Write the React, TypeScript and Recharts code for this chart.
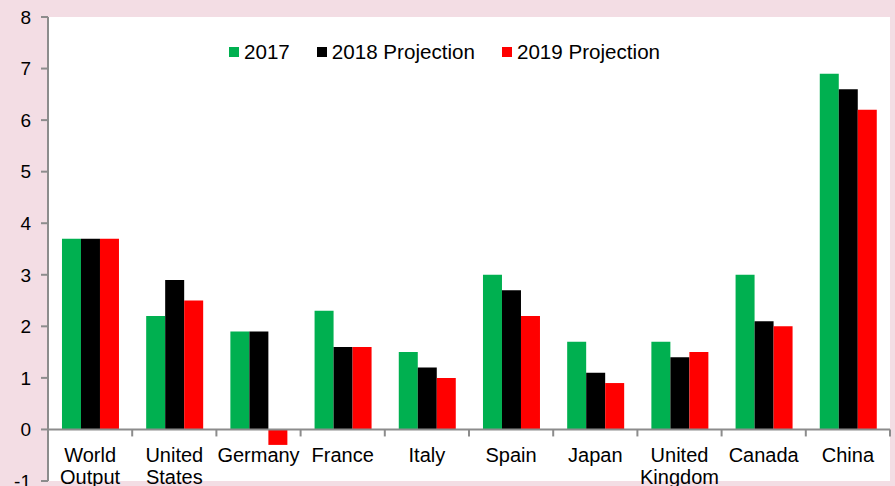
import React from "react";
import {
  BarChart,
  Bar,
  XAxis,
  YAxis,
  ReferenceLine,
} from "recharts";

const categories = [
  "World Output",
  "United States",
  "Germany",
  "France",
  "Italy",
  "Spain",
  "Japan",
  "United Kingdom",
  "Canada",
  "China",
];
const values2017 = [3.7, 2.2, 1.9, 2.3, 1.5, 3.0, 1.7, 1.7, 3.0, 6.9];
const values2018 = [3.7, 2.9, 1.9, 1.6, 1.2, 2.7, 1.1, 1.4, 2.1, 6.6];
const values2019 = [3.7, 2.5, -0.3, 1.6, 1.0, 2.2, 0.9, 1.5, 2.0, 6.2];
const yTicks = [-1, 0, 1, 2, 3, 4, 5, 6, 7, 8];

const seriesNames = ["2017", "2018 Projection", "2019 Projection"];
const colors = ["#00b050", "#000000", "#ff0000"];

const data = categories.map((c, i) => ({
  name: c,
  v2017: values2017[i],
  v2018: values2018[i],
  v2019: values2019[i],
}));

const W = 895;
const H = 486;
const M_TOP = 17;
const M_RIGHT = 5;
const Y_W = 48;
const X_H = 5;
const PLOT_W = W - Y_W - M_RIGHT;
const PLOT_H = H - M_TOP - X_H;
const Y_MIN = yTicks[0];
const Y_MAX = yTicks[yTicks.length - 1];
const ZERO_Y = M_TOP + (PLOT_H * Y_MAX) / (Y_MAX - Y_MIN);
const BAND = PLOT_W / categories.length;
const FONT = "'Liberation Sans', Arial, sans-serif";
const AXIS = "#8c8c8c";

const XTick = (props: any) => {
  const { x, payload } = props;
  const lines = String(payload.value).split(" ");
  return (
    <g>
      <line
        x1={x + BAND / 2}
        x2={x + BAND / 2}
        y1={ZERO_Y}
        y2={ZERO_Y + 7}
        stroke={AXIS}
        strokeWidth={2}
      />
      <text
        x={x}
        y={ZERO_Y + 33}
        textAnchor="middle"
        fontSize={20}
        fontFamily={FONT}
        fill="#000"
      >
        {lines.map((l, i) => (
          <tspan key={i} x={x} dy={i === 0 ? 0 : 22}>
            {l}
          </tspan>
        ))}
      </text>
    </g>
  );
};

const ChartLegend = () => (
  <div
    style={{
      position: "absolute",
      top: 40,
      left: 229,
      display: "flex",
      alignItems: "center",
      fontFamily: FONT,
      fontSize: 20.6,
      color: "#000",
      whiteSpace: "nowrap",
    }}
  >
    {seriesNames.map((n, i) => (
      <div
        key={n}
        style={{ display: "flex", alignItems: "center", marginRight: 27 }}
      >
        <span
          style={{
            width: 10,
            height: 10,
            background: colors[i],
            display: "inline-block",
            marginRight: 5,
          }}
        />
        {n}
      </div>
    ))}
  </div>
);

export default function App() {
  return (
    <div
      style={{
        position: "absolute",
        left: 0,
        top: 0,
        width: W,
        height: H,
        background: "#f3dde4",
        overflow: "hidden",
      }}
    >
      <BarChart
        width={W}
        height={H}
        data={data}
        margin={{ top: M_TOP, right: M_RIGHT, left: 0, bottom: 0 }}
        barCategoryGap="16.6%"
        barGap={0}
      >
        <rect x={Y_W} y={M_TOP} width={PLOT_W} height={PLOT_H} fill="#fff" />
        <XAxis
          dataKey="name"
          interval={0}
          axisLine={false}
          tickLine={false}
          height={X_H}
          tick={<XTick />}
        />
        <YAxis
          width={Y_W}
          domain={[Y_MIN, Y_MAX]}
          ticks={yTicks}
          interval={0}
          allowDataOverflow
          axisLine={{ stroke: AXIS, strokeWidth: 2 }}
          tickLine={{ stroke: AXIS, strokeWidth: 2 }}
          tickSize={7}
          tickMargin={10}
          tick={{ fontSize: 19, fill: "#000", fontFamily: FONT }}
        />
        <Bar dataKey="v2017" name={seriesNames[0]} fill={colors[0]} isAnimationActive={false} />
        <Bar dataKey="v2018" name={seriesNames[1]} fill={colors[1]} isAnimationActive={false} />
        <Bar dataKey="v2019" name={seriesNames[2]} fill={colors[2]} isAnimationActive={false} />
        <ReferenceLine y={0} stroke={AXIS} strokeWidth={2} />
      </BarChart>
      <ChartLegend />
    </div>
  );
}
